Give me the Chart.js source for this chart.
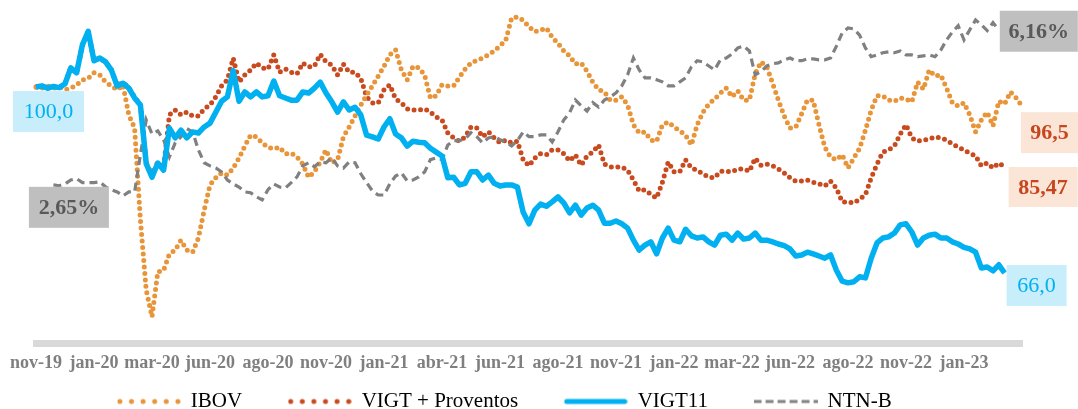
<!DOCTYPE html>
<html>
<head>
<meta charset="utf-8">
<script src="https://cdn.jsdelivr.net/npm/chart.js@4.4.1/dist/chart.umd.min.js"></script>
<style>
  html, body { margin: 0; padding: 0; background: #fff; }
  #box { width: 1078px; height: 409px; }
</style>
</head>
<body>
<div id="box"><canvas id="myChart"></canvas></div>
<script>
// eixo x: um rótulo a cada 10 pontos (semanas)
var tickLabels = ['nov-19', 'jan-20', 'mar-20', 'jun-20', 'ago-20', 'nov-20', 'jan-21', 'abr-21', 'jun-21',
                  'ago-21', 'nov-21', 'jan-22', 'mar-22', 'jun-22', 'ago-22', 'nov-22', 'jan-23']
var tickStep = 10
var totalPoints = 171

// base 100
var ibov = [
    100.0, 99.8, 100.2, 99.8, 100.0, 99.5, 99.8, 100.4, 101.3, 101.6,
    102.6, 102.2, 100.9, 100.2, 99.5, 100.4, 94.9, 92.5, 75.7, 62.9,
    58.0, 66.2, 66.5, 69.5, 70.2, 72.0, 70.2, 69.8, 72.4, 77.5,
    82.1, 83.4, 84.3, 83.9, 85.2, 87.0, 89.2, 91.2, 90.9, 89.8,
    89.0, 88.7, 89.0, 87.8, 87.9, 87.2, 85.9, 83.5, 84.5, 86.3,
    88.5, 86.1, 86.7, 90.9, 92.7, 94.7, 96.7, 98.5, 100.2, 102.0,
    103.8, 105.9, 106.8, 103.1, 101.3, 103.8, 103.5, 102.2, 98.0, 98.4,
    100.4, 100.2, 100.2, 101.8, 103.3, 104.4, 104.9, 105.3, 105.9, 106.6,
    107.5, 108.6, 112.6, 112.8, 112.2, 111.0, 110.1, 110.4, 110.8, 109.1,
    108.0, 106.6, 105.7, 104.2, 104.4, 102.9, 100.9, 99.5, 99.1, 97.6,
    97.6, 98.2, 96.7, 93.1, 91.6, 91.8, 90.3, 90.1, 93.1, 93.6,
    92.7, 92.0, 91.2, 89.4, 93.1, 95.4, 96.9, 97.8, 98.9, 99.8,
    98.2, 99.3, 97.6, 97.6, 102.4, 104.6, 103.7, 100.7, 97.6, 94.7,
    92.5, 92.7, 95.1, 97.6, 97.6, 93.1, 89.0, 87.2, 86.7, 87.6,
    85.2, 87.0, 88.8, 92.1, 95.8, 98.4, 98.4, 97.6, 97.4, 98.0,
    97.8, 97.3, 100.9, 99.6, 103.1, 102.0, 102.2, 99.8, 97.1, 96.5,
    97.1, 94.9, 91.8, 94.0, 95.4, 92.9, 97.4, 96.9, 99.1, 98.0,
    96.5
]

var vigtProventos = [
    100.0, 100.2, 99.8, 100.1, 99.9, 100.6, 103.5, 102.6, 107.7, 110.0,
    104.9, 105.3, 104.6, 103.1, 100.3, 100.8, 99.9, 98.1, 96.8, 86.2,
    83.8, 86.3, 85.2, 94.9, 95.8, 94.9, 95.4, 94.7, 94.7, 96.0,
    96.7, 98.2, 100.2, 101.3, 105.3, 100.9, 102.2, 103.1, 104.4, 103.5,
    103.3, 105.9, 102.7, 103.3, 102.7, 102.4, 104.4, 103.7, 103.8, 106.0,
    104.6, 104.0, 102.2, 104.2, 102.7, 102.7, 101.6, 98.2, 97.1, 97.1,
    99.5, 100.4, 97.8, 97.1, 96.0, 95.8, 95.8, 96.0, 95.4, 94.5,
    94.0, 91.6, 90.7, 90.1, 90.9, 92.7, 92.5, 90.9, 91.8, 90.7,
    89.8, 90.3, 89.8, 90.1, 86.7, 85.6, 87.0, 87.8, 87.6, 88.5,
    88.5, 87.8, 86.5, 87.6, 85.7, 87.4, 88.1, 89.4, 85.9, 85.4,
    85.4, 85.4, 84.8, 83.0, 81.0, 81.2, 80.4, 79.7, 82.6, 86.3,
    84.5, 84.5, 86.7, 85.2, 84.8, 84.1, 83.5, 83.4, 84.6, 84.6,
    84.5, 85.0, 85.0, 84.6, 87.0, 85.7, 85.9, 85.6, 85.0, 84.3,
    83.4, 82.8, 82.8, 83.0, 82.6, 82.3, 81.9, 82.8, 81.5, 79.0,
    79.0, 78.8, 79.5, 80.3, 83.4, 85.9, 88.1, 88.5, 89.2, 91.4,
    93.1, 90.7, 90.1, 90.3, 90.5, 90.9, 90.7, 90.3, 89.6, 89.0,
    88.5, 87.9, 87.4, 85.6, 86.1, 85.2, 86.1, 85.47
]

var vigt11 = [
    100.0, 100.2, 99.8, 100.1, 99.9, 100.6, 103.5, 102.6, 107.7, 110.2,
    104.8, 105.3, 104.6, 103.1, 100.2, 100.7, 99.8, 98.0, 96.7, 86.0,
    83.5, 86.1, 84.8, 92.5, 90.7, 92.1, 90.7, 91.8, 91.6, 92.7,
    93.4, 95.4, 97.4, 98.2, 103.0, 97.4, 99.1, 98.2, 99.1, 98.2,
    98.4, 101.1, 98.4, 98.0, 97.6, 97.6, 99.1, 98.9, 99.8, 100.9,
    98.9, 97.3, 95.4, 97.3, 95.8, 96.3, 94.9, 91.2, 90.9, 90.5,
    92.7, 94.2, 91.4, 90.7, 89.2, 90.1, 89.9, 89.8, 88.8, 88.1,
    87.4, 83.4, 83.5, 82.1, 82.4, 84.5, 84.5, 83.0, 83.9, 82.4,
    81.9, 82.1, 82.1, 81.7, 77.1, 75.0, 77.5, 78.6, 78.2, 79.0,
    79.9, 78.8, 77.0, 78.4, 76.6, 77.9, 78.4, 77.5, 75.1, 75.1,
    75.5, 75.0, 74.2, 72.0, 70.2, 71.1, 71.7, 69.5, 72.4, 74.2,
    72.0, 71.7, 74.0, 72.8, 72.4, 72.6, 71.7, 71.1, 72.9, 73.1,
    72.0, 73.3, 72.2, 72.4, 73.3, 72.0, 72.0, 71.7, 71.3, 71.0,
    70.4, 69.1, 69.3, 69.8, 69.5, 69.1, 68.7, 69.3, 66.5, 64.5,
    64.2, 64.4, 65.3, 65.1, 68.7, 71.5, 72.4, 72.6, 73.3, 74.8,
    75.0, 73.5, 71.1, 72.4, 72.9, 73.1, 72.4, 72.4, 71.7, 71.3,
    70.7, 70.4, 69.8, 66.9, 67.1, 66.4, 67.5, 66.0
]

// taxa real (%), eixo secundário
var ntnb = [
    null, null, null, 2.65, 2.63, 2.67, 2.76, 2.79, 2.70, 2.70,
    2.70, 2.72, 2.60, 2.54, 2.49, 2.40, 2.49, 2.49, 3.33, 4.12,
    3.80, 3.87, 3.67, 3.28, 3.60, 3.74, 3.92, 3.85, 3.44, 3.15,
    3.08, 3.03, 2.94, 2.76, 2.67, 2.60, 2.49, 2.47, 2.38, 2.31,
    2.54, 2.67, 2.60, 2.58, 2.70, 2.83, 3.08, 3.15, 3.06, 3.17,
    3.15, 3.26, 3.08, 3.03, 3.17, 3.15, 2.90, 2.70, 2.51, 2.42,
    2.42, 2.67, 2.85, 2.92, 2.74, 2.76, 2.83, 2.94, 3.22, 3.26,
    3.22, 3.55, 3.65, 3.65, 3.69, 3.83, 3.74, 3.60, 3.71, 3.74,
    3.67, 3.62, 3.53, 3.65, 3.85, 3.74, 3.74, 3.78, 3.78, 3.62,
    3.85, 4.12, 4.28, 4.57, 4.44, 4.32, 4.51, 4.41, 4.57, 4.64,
    4.73, 4.89, 5.14, 5.52, 5.25, 5.07, 5.07, 5.03, 4.98, 4.89,
    4.89, 4.98, 5.07, 5.32, 5.46, 5.43, 5.34, 5.25, 5.48, 5.52,
    5.61, 5.75, 5.79, 5.68, 5.14, 5.21, 5.34, 5.39, 5.41, 5.48,
    5.52, 5.46, 5.46, 5.50, 5.50, 5.48, 5.48, 5.52, 5.79, 6.09,
    6.20, 6.18, 6.04, 5.75, 5.55, 5.59, 5.64, 5.66, 5.64, 5.68,
    5.59, 5.59, 5.55, 5.57, 5.59, 5.55, 5.70, 5.93, 6.11, 6.25,
    5.93, 6.16, 6.38, 6.27, 6.14, 6.32, 6.16
]

var categories = []
for (let i = 0; i < totalPoints; i++) {
    categories.push(i % tickStep == 0 && tickLabels[i / tickStep] ? tickLabels[i / tickStep] : '')
}

// caixinhas com o primeiro / último valor
var valueBoxes = [
    { dataset: 2, at: 'first', digits: 1, suffix: '',  dx: 12.5, dy: 24.5, w: 71, h: 41, bg: '#c8eefc', color: '#00b0f0', weight: 'normal' },
    { dataset: 3, at: 'first', digits: 2, suffix: '%', dx: 15.5, dy: 22.5, w: 80, h: 41, bg: '#bfbfbf', color: '#595959', weight: 'bold' },
    { dataset: 3, at: 'last',  digits: 2, suffix: '%', dx: 40,   dy: 1.5,  w: 78, h: 41, bg: '#bfbfbf', color: '#595959', weight: 'bold' },
    { dataset: 0, at: 'last',  digits: 1, suffix: '',  dx: 27.5, dy: 26.5, w: 57, h: 41, bg: '#fbe5d6', color: '#c8461e', weight: 'bold' },
    { dataset: 1, at: 'last',  digits: 2, suffix: '',  dx: 38.5, dy: 20.5, w: 69, h: 40, bg: '#fbe5d6', color: '#c8461e', weight: 'bold' },
    { dataset: 2, at: 'last',  digits: 1, suffix: '',  dx: 32,   dy: 12.5, w: 60, h: 41, bg: '#c8eefc', color: '#00b0f0', weight: 'normal' }
]

Chart.defaults.font.family = "'Liberation Serif', 'DejaVu Serif', serif"

function legendSample(color, kind) {
    let c = document.createElement('canvas')
    c.width = 64
    c.height = 10
    let g = c.getContext('2d')
    g.strokeStyle = color
    g.fillStyle = color
    if (kind == 'dots') {
        for (let i = 0; i < 6; i++) {
            g.beginPath()
            g.arc(3 + i * 11.6, 5, 2.5, 0, Math.PI * 2)
            g.fill()
        }
    } else if (kind == 'solid') {
        g.lineWidth = 5
        g.lineCap = 'round'
        g.beginPath()
        g.moveTo(3, 5)
        g.lineTo(61, 5)
        g.stroke()
    } else {
        g.lineWidth = 3
        g.setLineDash([8, 4])
        g.beginPath()
        g.moveTo(0, 5)
        g.lineTo(64, 5)
        g.stroke()
    }
    return c
}

var boxPlugin = {
    id: 'valueBoxes',
    afterDatasetsDraw(chart) {
        let ctx = chart.ctx
        valueBoxes.forEach((b) => {
            let data = chart.data.datasets[b.dataset].data
            let idx = -1
            if (b.at == 'first') {
                idx = data.findIndex((v) => v != null)
            } else {
                idx = data.length - 1
            }
            let pt = chart.getDatasetMeta(b.dataset).data[idx]
            let cx = pt.x + b.dx
            let cy = pt.y + b.dy
            let text = data[idx].toFixed(b.digits).replace('.', ',') + b.suffix

            ctx.save()
            ctx.fillStyle = b.bg
            ctx.fillRect(cx - b.w / 2, cy - b.h / 2, b.w, b.h)
            ctx.fillStyle = b.color
            ctx.font = b.weight + " 22px 'Liberation Serif'"
            ctx.textAlign = 'center'
            ctx.textBaseline = 'middle'
            ctx.fillText(text, cx, cy + 1)
            ctx.restore()
        })
    }
}

// a legenda fica colada no rodapé e um pouco à esquerda, como no original
var legendShift = {
    id: 'legendShift',
    afterLayout(chart) {
        let lg = chart.legend
        lg.top = 345
        lg.bottom = chart.height
        lg.height = lg.bottom - lg.top
        lg.left -= 23
        lg.right -= 23
    }
}

const ctx = document.getElementById('myChart')

new Chart(ctx, {
    type: 'line',
    data: {
        labels: categories,
        datasets: [
            {
                label: 'IBOV',
                data: ibov,
                yAxisID: 'y',
                borderColor: '#e8953a',
                backgroundColor: '#e8953a',
                borderWidth: 5,
                borderDash: [0, 6.5],
                borderCapStyle: 'round',
                pointRadius: 0,
                pointStyle: legendSample('#e8953a', 'dots'),
                order: 2
            },
            {
                label: 'VIGT + Proventos',
                data: vigtProventos,
                yAxisID: 'y',
                borderColor: '#c84a1e',
                backgroundColor: '#c84a1e',
                borderWidth: 5,
                borderDash: [0, 6.5],
                borderCapStyle: 'round',
                pointRadius: 0,
                pointStyle: legendSample('#c84a1e', 'dots'),
                order: 3
            },
            {
                label: 'VIGT11',
                data: vigt11,
                yAxisID: 'y',
                borderColor: '#00b0f0',
                backgroundColor: '#00b0f0',
                borderWidth: 5.5,
                borderJoinStyle: 'round',
                pointRadius: 0,
                pointStyle: legendSample('#00b0f0', 'solid'),
                order: 0
            },
            {
                label: 'NTN-B',
                data: ntnb,
                yAxisID: 'y2',
                borderColor: '#808080',
                backgroundColor: '#808080',
                borderWidth: 3.2,
                borderDash: [8, 5],
                pointRadius: 0,
                pointStyle: legendSample('#808080', 'dash'),
                order: 1
            }
        ]
    },
    options: {
        responsive: true,
        maintainAspectRatio: false,
        animation: false,
        layout: {
            padding: { left: 33, right: 56, top: 5, bottom: 0 }
        },
        elements: {
            line: { tension: 0 }
        },
        scales: {
            x: {
                grid: { display: false, drawTicks: false },
                border: { display: true, color: '#d9d9d9', width: 7 },
                ticks: {
                    autoSkip: false,
                    maxRotation: 0,
                    padding: 10,
                    color: '#7f7f7f',
                    font: { size: 18, weight: 'bold' }
                },
                afterFit: function (scale) {
                    scale.height = 36
                }
            },
            y: { display: false, min: 53.2, max: 115 },
            y2: { display: false, min: -0.93, max: 6.72 }
        },
        plugins: {
            legend: {
                position: 'bottom',
                maxHeight: 30,
                labels: {
                    usePointStyle: true,
                    pointStyleWidth: 63,
                    padding: 46,
                    color: '#000000',
                    font: { size: 21 },
                    sort: (a, b) => a.datasetIndex - b.datasetIndex
                }
            },
            tooltip: { enabled: false }
        }
    },
    plugins: [boxPlugin, legendShift]
});
</script>
</body>
</html>
